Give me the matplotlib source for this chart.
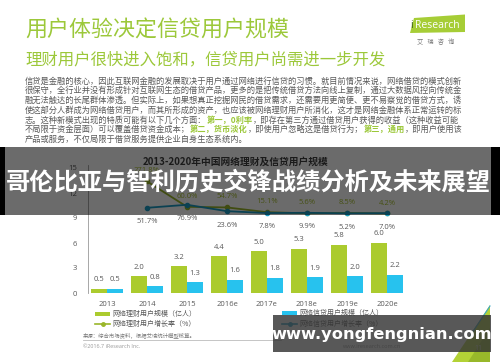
import matplotlib
matplotlib.use('Agg')
import matplotlib.pyplot as plt
from matplotlib.patches import Rectangle, Polygon

# ---------------- data ----------------
years = ['2013', '2014', '2015', '2016e', '2017e', '2018e', '2019e', '2020e']
wealth_users = [0.5, 2.0, 3.2, 4.4, 5.0, 5.3, 5.8, 6.0]
credit_users = [0.5, 0.8, 1.3, 1.6, 1.8, 1.9, 2.0, 2.2]
wealth_growth = [None, 271.8, 60.0, 54.7, 15.1, 5.6, 8.5, 4.2]
credit_growth = [None, 51.7, 76.9, 23.6, 7.8, 9.9, 5.2, 7.0]
yticks = [0, 3, 6, 9, 12, 15]

title = '用户体验决定信贷用户规模'
subtitle = '理财用户很快进入饱和，信贷用户尚需进一步开发'
chart_title = '2013-2020年中国网络理财及信贷用户规模'
banner_text = '哥伦比亚与智利历史交锋战绩分析及未来展望'
watermark = 'www.yongfengnian.com'
legend_labels = ['网络理财用户规模（亿人）', '网络理财用户增长率（%）',
                 '网络信贷用户规模（亿人）', '网络信贷用户增长率（%）']
source = '来源：综合市场资料，根据艾瑞统计模型核算。'
copyright_txt = '©2016.7 iResearch Inc.'
body_lines = [
    [('信贷是金融的核心，因此互联网金融的发展取决于用户通过网络进行信贷的习惯。就目前情况来说，网络借贷的模式创新', 0)],
    [('很保守，全行业并没有形成针对互联网生态的借贷产品，更多的是把传统借贷方法向线上复制，通过大数据风控向传统金', 0)],
    [('融无法触达的长尾群体渗透。但实际上，如果想真正挖掘网民的借贷需求，还需要用更简便、更不易察觉的借贷方式，诱', 0)],
    [('使这部分人群成为网络借贷用户，而其所形成的资产，也应该被网络理财用户所消化，这才是网络金融体系正常运转的标', 0)],
    [('志。这种新模式出现的特质可能有以下几个方面：', 0), ('第一，0利率', 1), ('，即存在第三方通过借贷用户获得的收益（这种收益可能', 0)],
    [('不局限于资金层面）可以覆盖借贷资金成本；', 0), ('第二，货币淡化', 1), ('，即使用户忽略这是借贷行为；', 0), ('第三，通用', 1), ('，即用户使用该', 0)],
    [('产品或服务，不仅局限于借贷服务提供企业自身生态系统内。', 0)],
]

# ---------------- style ----------------
CJK = ['Noto Sans CJK SC', 'DejaVu Sans']
NUM = ['Open Sans', 'Noto Sans CJK SC']
plt.rcParams['font.family'] = CJK
GREEN = '#9cc83a'
GREEN_BAR = '#abcb2e'
BLUE_BAR = '#27c2ee'
GREEN_LINE = '#9ab62a'
BLUE_LINE = '#1b9cc4'
GREY = '#595959'

W, H = 500, 362
fig = plt.figure(figsize=(5, 3.62), dpi=100)
fig.patch.set_facecolor('white')

bg = fig.add_axes([0, 0, 1, 1], zorder=0)
bg.set_xlim(0, W); bg.set_ylim(H, 0); bg.axis('off')

# titles
bg.text(25, 31, title, fontsize=15.8, color=GREEN, va='center', ha='left')
bg.text(25, 60, subtitle, fontsize=11.8, color=GREEN, va='center', ha='left')

# logo
bg.add_patch(Polygon([(414, 18), (465, 14.5), (465, 32), (410, 33)], closed=True,
                     facecolor='#a6cd36', edgecolor='none'))
bg.text(410.5, 25, 'i', fontsize=7.5, color='#2f5a0a', va='center', ha='left', family=NUM)
bg.text(415.5, 25, 'Research', fontsize=7.5, color='white', va='center', ha='left', family=NUM)
bg.text(436, 42, '艾   瑞   咨   询', fontsize=4.5, color='#777777', va='center', ha='center')

# body text with coloured segments
fig.canvas.draw()
renderer = fig.canvas.get_renderer()
y0 = 81
for i, segs in enumerate(body_lines):
    x = 25
    y = y0 + i * 9.75
    for txt, hl in segs:
        t = bg.text(x, y, txt, fontsize=5.95, color=(GREEN if hl else GREY),
                    fontweight=('bold' if hl else 'normal'), va='center', ha='left')
        bb = t.get_window_extent(renderer=renderer)
        x += bb.width

# ---------------- chart ----------------
left_px, right_px, bot_px, top_px = 88, 407, 293, 165
ax = fig.add_axes([left_px / W, (H - bot_px) / H, (right_px - left_px) / W, (bot_px - top_px) / H], zorder=1)
ax.patch.set_alpha(0)
xs = list(range(len(years)))
bw = 0.39
ax.bar([x - bw / 2 for x in xs], wealth_users, width=bw, color=GREEN_BAR, zorder=2)
ax.bar([x + bw / 2 for x in xs], credit_users, width=bw, color=BLUE_BAR, zorder=2)
for x, v in zip(xs, wealth_users):
    ax.annotate(f'{v:.1f}', (x - bw / 2, v), xytext=(0, 4), textcoords='offset points',
                ha='center', va='bottom', fontsize=5.5, color=GREY, family=NUM)
for x, v in zip(xs, credit_users):
    ax.annotate(f'{v:.1f}', (x + bw / 2, v), xytext=(0, 4), textcoords='offset points',
                ha='center', va='bottom', fontsize=5.5, color=GREY, family=NUM)
ax.set_xlim(-0.475, 7.5)
ax.set_ylim(0, 15 * 128 / 125)
ax.set_yticks(yticks)
ax.set_yticklabels([str(v) for v in yticks], fontsize=5.5, color=GREY, family=NUM)
ax.set_xticks(xs)
ax.set_xticklabels(years, fontsize=5.5, color=GREY, family=NUM)
ax.tick_params(length=0, pad=8)
ax.tick_params(axis='x', pad=6)
for s in ['top', 'right', 'bottom']:
    ax.spines[s].set_visible(False)
ax.spines['left'].set_color('#999999')
ax.spines['left'].set_linewidth(0.6)

ax2 = ax.twinx()
ax2.set_ylim(-79 / 0.12, 49 / 0.12)
ax2.axis('off')
gx = [x for x, v in zip(xs, wealth_growth) if v is not None]
gv = [v for v in wealth_growth if v is not None]
cx = [x for x, v in zip(xs, credit_growth) if v is not None]
cv = [v for v in credit_growth if v is not None]
ax2.plot(gx, gv, color=GREEN_LINE, lw=1.3, marker='o', ms=3)
ax2.plot(cx, cv, color=BLUE_LINE, lw=1.3, marker='o', ms=3)
for x, v in zip(gx, gv):
    ax2.annotate(f'{v:.1f}%', (x, v), xytext=(0, 5), textcoords='offset points',
                 ha='center', va='bottom', fontsize=5.5, color='#a8c030', family=NUM)
for x, v in zip(cx, cv):
    ax2.annotate(f'{v:.1f}%', (x, v), xytext=(0, -7.5), textcoords='offset points',
                 ha='center', va='top', fontsize=5.5, color=GREY, family=NUM)

bg.text(236, 162, chart_title, fontsize=7, fontweight='bold', color='#404040', va='center', ha='center')

# legend
def leg_patch(x, y, col, label):
    bg.add_patch(Rectangle((x, y - 2), 15, 4, facecolor=col, edgecolor='none'))
    bg.text(x + 17, y, label, fontsize=5, color=GREY, va='center', ha='left')

def leg_line(x, y, col, label):
    bg.plot([x, x + 15], [y, y], color=col, lw=1.2)
    bg.plot([x + 7.5], [y], 'o', color=col, ms=2.5)
    bg.text(x + 17, y, label, fontsize=5, color=GREY, va='center', ha='left')

leg_patch(95, 314, GREEN_BAR, legend_labels[0])
leg_line(95, 324, GREEN_LINE, legend_labels[1])
leg_patch(282, 313, BLUE_BAR, legend_labels[2])
leg_line(282, 324, BLUE_LINE, legend_labels[3])

bg.text(83, 335, source, fontsize=3.9, color='#777777', va='center', ha='left')
bg.plot([83, 281], [340, 340], color='#bbbbbb', lw=0.6)
bg.text(83, 347, copyright_txt, fontsize=3.9, color='#999999', va='center', ha='left', family=NUM)
bg.text(372, 347, 'www.iresearch.com.cn', fontsize=4, color='#999999', va='center', ha='center', family=NUM)

# corner decoration
bg.add_patch(Polygon([(452, 362), (490, 305), (490, 362)], closed=True, facecolor='#b3d236', edgecolor='none'))
bg.add_patch(Polygon([(468, 362), (490, 328), (490, 362)], closed=True, facecolor='#98b82a', edgecolor='none'))
bg.plot([490, 470], [306, 336], color='#3aa7c8', lw=0.8)
bg.text(478, 349, '11', fontsize=5, color='#dddddd', va='center', ha='center', family=NUM)

# ---------------- overlays ----------------
top = fig.add_axes([0, 0, 1, 1], zorder=10)
top.set_xlim(0, W); top.set_ylim(H, 0); top.axis('off')
top.patch.set_alpha(0)
top.add_patch(Rectangle((0, 147), 500, 68, facecolor='black', alpha=0.58, edgecolor='none'))
top.add_patch(Rectangle((0, 147), 4.5, 68, facecolor='black', edgecolor='none'))
top.add_patch(Rectangle((491, 147), 9, 68, facecolor='black', edgecolor='none'))
top.text(248, 183, banner_text, fontsize=17.5, fontweight='bold', color='white', va='center', ha='center')

top.add_patch(Rectangle((273, 315), 218, 37, facecolor='#333333', alpha=0.82, edgecolor='none'))
top.text(382, 334, watermark, fontsize=11.7, fontweight='bold', color='white', va='center', ha='center',
         family=['DejaVu Sans'])

fig.savefig('out.png', dpi=100)
